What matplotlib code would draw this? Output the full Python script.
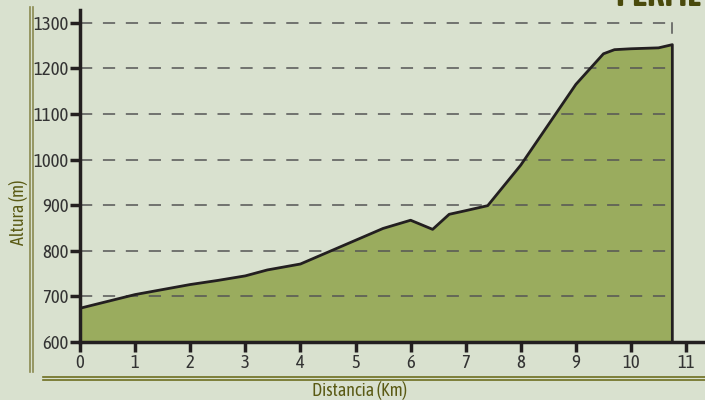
import matplotlib
matplotlib.use("Agg")
import matplotlib.pyplot as plt
from matplotlib import font_manager as fm
from matplotlib.lines import Line2D

names = {f.name for f in fm.fontManager.ttflist}

km = [0, 1, 2, 2.5, 3, 3.4, 4, 4.5, 5, 5.5, 6, 6.4, 6.7, 7, 7.4, 8, 9, 9.5, 9.7, 10, 10.5, 10.75]
alt = [674, 704, 726, 735, 745, 758, 771, 797, 823, 849, 867, 847, 880, 888, 899, 988, 1165, 1232, 1241, 1243, 1245, 1252]
xticks = list(range(0, 12))
yticks = list(range(600, 1400, 100))
grid_levels = list(range(700, 1400, 100))

FONT = 'DejaVu Sans'
for cand in ['Asap Condensed', 'Cabin Condensed', 'Encode Sans Condensed', 'Archivo Narrow']:
    if cand in names:
        FONT = cand
        break
plt.rcParams['font.family'] = [FONT, 'DejaVu Sans']

bg = '#d9e1cf'
fill_c = '#9aac5e'
olive = '#5a5a14'
dark = '#231f20'

fig = plt.figure(figsize=(7.05, 4.0), dpi=100, facecolor=bg)
ax = fig.add_axes([80/705, 58/400, 625/705, 332/400])
ax.set_facecolor(bg)
ax.set_xlim(0, 625/55.1)
ax.set_ylim(600, 1328)

ax.fill_between(km, alt, 600, color=fill_c, zorder=1, lw=0)
ax.plot(km + [km[-1]], alt + [600], color=dark, lw=2, zorder=3, solid_joinstyle='round')
for g in grid_levels:
    ax.plot([0, km[-1]], [g, g], color='#555555', lw=1.1, dashes=(8, 7), zorder=2)
ax.plot([km[-1], km[-1]], [1300, 1278], color='#555555', lw=1.1, zorder=2)

for s in ['top', 'right']:
    ax.spines[s].set_visible(False)
for s in ['left', 'bottom']:
    ax.spines[s].set_linewidth(2.5)
    ax.spines[s].set_color(dark)
ax.set_xticks(xticks)
ax.set_yticks(yticks)
ax.tick_params(axis='both', direction='out', length=7, width=2.5, color=dark, labelsize=13.5, labelcolor='#333333')
ax.tick_params(axis='x', pad=2)
ax.tick_params(axis='y', pad=1)

fig.text(18/705, 1 - 212/400, 'Altura (m)', rotation=90, ha='center', va='center', color=olive, fontsize=13)
fig.text(360/705, 1 - 391/400, 'Distancia (Km)', ha='center', va='center', color=olive, fontsize=13)
fig.text(615/705, 1 - 6/400, 'PERFIL', ha='left', va='baseline', color='#4a4a0c', fontsize=25, fontweight='bold')

for x, c in [(30, '#8a8a50'), (33, '#8a8a50')]:
    fig.add_artist(Line2D([x/705, x/705], [1 - 7/400, 1 - 372/400], color=c, lw=1.2))
for y in [377, 380]:
    fig.add_artist(Line2D([43/705, 1], [1 - y/400, 1 - y/400], color='#6e6e20', lw=1.2))

fig.savefig('out.png', dpi=100, facecolor=bg)
